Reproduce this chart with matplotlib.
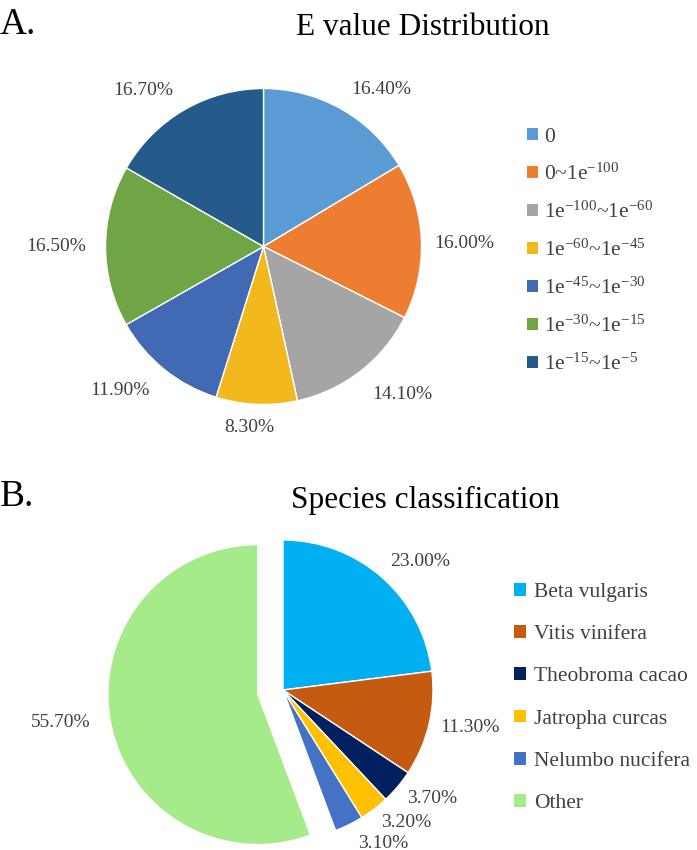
import numpy as np
import matplotlib
matplotlib.use('Agg')
import matplotlib.pyplot as plt
from matplotlib.patches import Patch

plt.rcParams['font.family'] = ['Liberation Serif', 'DejaVu Serif']
plt.rcParams['mathtext.fontset'] = 'custom'
plt.rcParams['mathtext.rm'] = 'Liberation Serif'
plt.rcParams['mathtext.it'] = 'Liberation Serif:italic'

# data
evalue_labels = ['0', r'0~1e$^{-100}$', r'1e$^{-100}$~1e$^{-60}$', r'1e$^{-60}$~1e$^{-45}$',
                 r'1e$^{-45}$~1e$^{-30}$', r'1e$^{-30}$~1e$^{-15}$', r'1e$^{-15}$~1e$^{-5}$']
evalue_pct = [16.4, 16.0, 14.1, 8.3, 11.9, 16.5, 16.7]
evalue_colors = ['#5B9BD5', '#ED7D31', '#A5A5A5', '#F2B81D', '#4169B4', '#6FA544', '#245B8A']

species_labels = ['Beta vulgaris', 'Vitis vinifera', 'Theobroma cacao', 'Jatropha curcas',
                  'Nelumbo nucifera', 'Other']
species_pct = [23.0, 11.3, 3.7, 3.2, 3.1, 55.7]
species_colors = ['#00B0F0', '#C55A11', '#002060', '#FFC000', '#4472C4', '#A6EB8A']
species_explode = [0, 0, 0, 0, 0, 0.17]

# label placement tweaks (radius factor, angle shift in degrees)
a_lab_r = [1.24, 1.27, 1.28, 1.15, 1.29, 1.31, 1.25]
a_lab_dt = [-7.4, -1.1, 5.3, -2.0, -6.0, 0.0, 7.5]
b_lab_r = [1.25, 1.27, 1.23, 1.21, 1.22, 1.33]
b_lab_dt = [-5.5, 1.8, 4.0, 5.5, 7.1, -2.2]

W, H = 697, 850
fig = plt.figure(figsize=(W / 100, H / 100), dpi=100)
txt_gray = '#404040'


def pie_axes(cx, cy, r):
    ax = fig.add_axes([(cx - r) / W, 1 - (cy + r) / H, 2 * r / W, 2 * r / H])
    return ax


def draw_pie(ax, vals, colors, explode, lab_r, lab_dt):
    wedges, _ = ax.pie(vals, colors=colors, startangle=90, counterclock=False,
                       explode=explode, wedgeprops=dict(edgecolor='white', linewidth=1))
    for i, w in enumerate(wedges):
        w.set_clip_on(False)
        mid = np.deg2rad((w.theta1 + w.theta2) / 2)
        ang = mid + np.deg2rad(lab_dt[i])
        ex = explode[i] if explode is not None else 0
        x = ex * np.cos(mid) + lab_r[i] * np.cos(ang)
        y = ex * np.sin(mid) + lab_r[i] * np.sin(ang)
        ax.text(x, y, '%.2f%%' % vals[i], ha='center', va='center',
                fontsize=14, color=txt_gray)
    ax.set_xlim(-1, 1)
    ax.set_ylim(-1, 1)
    ax.set_aspect('equal')
    ax.axis('off')
    return wedges


# A
axA = pie_axes(263.5, 246.5, 158)
draw_pie(axA, evalue_pct, evalue_colors, None, a_lab_r, a_lab_dt)
handlesA = [Patch(facecolor=c, edgecolor='none') for c in evalue_colors]
fig.legend(handlesA, evalue_labels, loc='center left', bbox_to_anchor=(527 / W, 1 - 251 / H),
           frameon=False, fontsize=15.5, handlelength=0.5, handleheight=0.5,
           handletextpad=0.3, labelspacing=0.78, labelcolor=txt_gray, borderpad=0,
           borderaxespad=0)
fig.text(0, 1 - 34 / H, 'A.', fontsize=27, ha='left', va='baseline')
fig.text(423 / W, 1 - 35 / H, 'E value Distribution', fontsize=22.5, ha='center', va='baseline')

# B
axB = pie_axes(283, 690, 150)
draw_pie(axB, species_pct, species_colors, species_explode, b_lab_r, b_lab_dt)
handlesB = [Patch(facecolor=c, edgecolor='none') for c in species_colors]
fig.legend(handlesB, species_labels, loc='center left', bbox_to_anchor=(514 / W, 1 - 698 / H),
           frameon=False, fontsize=15.5, handlelength=0.55, handleheight=0.55,
           handletextpad=0.4, labelspacing=1.07, labelcolor=txt_gray, borderpad=0,
           borderaxespad=0)
fig.text(0, 1 - 506 / H, 'B.', fontsize=27, ha='left', va='baseline')
fig.text(425 / W, 1 - 508 / H, 'Species classification', fontsize=22.5, ha='center', va='baseline')

fig.savefig('out.png', dpi=100)
